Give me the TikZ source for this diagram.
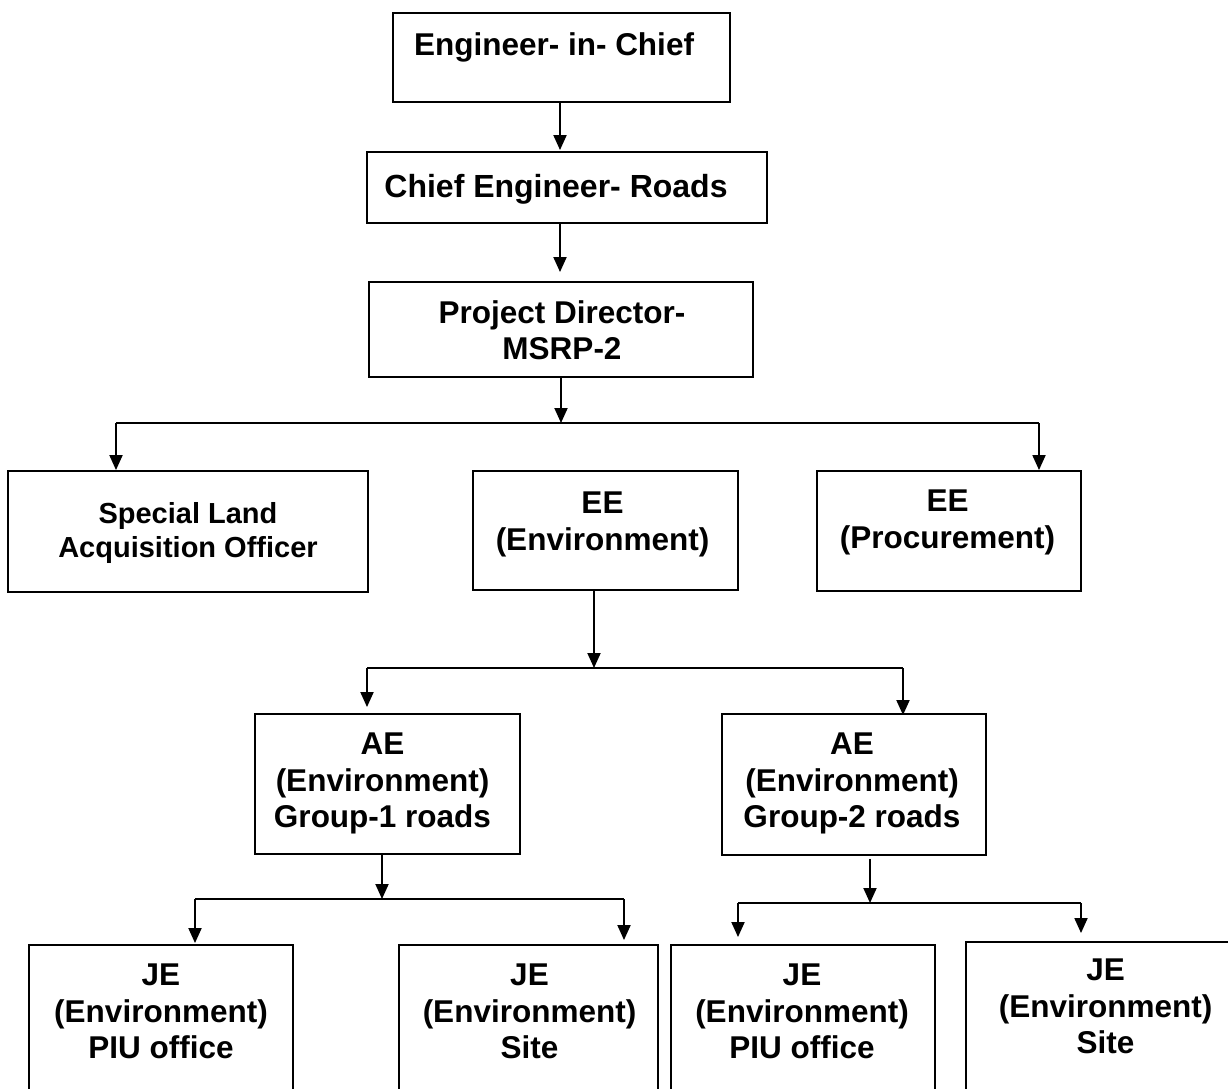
\documentclass[tikz,border=0pt]{standalone}
\usepackage{fontspec}
\setmainfont{Liberation Sans}
\usetikzlibrary{arrows.meta}
\begin{document}
\begin{tikzpicture}[x=1pt,y=-1pt]
\tikzset{
  box/.style={draw, line width=1.9pt, rectangle, inner sep=0pt},
  lbl/.style={anchor=north, inner sep=0pt, align=center, font=\fontsize{31.5}{36.5}\selectfont\bfseries},
  conn/.style={line width=1.9pt},
  arr/.style={line width=1.9pt, -{Triangle[length=15pt,width=13pt]}},
}
\useasboundingbox (0,0) rectangle (1228,1088);
\clip (0,0) rectangle (1228,1088);

% boxes
\node[box, minimum width=337pt, minimum height=89pt]  (eic)  at (561.5,57.5) {};
\node[box, minimum width=400pt, minimum height=71pt]  (ce)   at (567,187.5) {};
\node[box, minimum width=384pt, minimum height=95pt]  (pd)   at (561,329.5) {};
\node[box, minimum width=360pt, minimum height=121pt] (slao) at (188,531.5) {};
\node[box, minimum width=265pt, minimum height=119pt] (eee)  at (605.5,530.5) {};
\node[box, minimum width=264pt, minimum height=120pt] (eep)  at (949,531) {};
\node[box, minimum width=265pt, minimum height=140pt] (aea)  at (387.5,784) {};
\node[box, minimum width=264pt, minimum height=141pt] (aeb)  at (854,784.5) {};
\node[box, minimum width=264pt, minimum height=155pt] (jea)  at (161,1022.5) {};
\node[box, minimum width=259pt, minimum height=155pt] (jeb)  at (528.5,1022.5) {};
\node[box, minimum width=264pt, minimum height=155pt] (jec)  at (803,1022.5) {};
\node[box, minimum width=274pt, minimum height=158pt] (jed)  at (1103,1021) {};

% texts
\node[lbl] (teic) at (554,32) {Engineer- in- Chief};
\node[lbl, font=\fontsize{32}{36}\selectfont\bfseries] (tce) at (556,174) {Chief Engineer- Roads};
\node[lbl] (tpd) at (562,300) {Project Director-\\MSRP-2};
\node[lbl, font=\fontsize{29}{34}\selectfont\bfseries] (tslao) at (188,502) {Special Land\\Acquisition Officer};
\node[lbl] (teee) at (602.5,492) {EE\\(Environment)};
\node[lbl] (teep) at (947.5,490) {EE\\(Procurement)};
\node[lbl] (taea) at (382.5,733) {AE\\(Environment)\\Group-1 roads};
\node[lbl] (taeb) at (852,733) {AE\\(Environment)\\Group-2 roads};
\node[lbl] (tjea) at (161,964) {JE\\(Environment)\\PIU office};
\node[lbl] (tjeb) at (529.5,964) {JE\\(Environment)\\Site};
\node[lbl] (tjec) at (802,964) {JE\\(Environment)\\PIU office};
\node[lbl] (tjed) at (1105.5,959) {JE\\(Environment)\\Site};

% junction coordinates
\coordinate (c1) at (560,0);
\coordinate (j1) at (561,423);
\coordinate (j1l) at (116,423);
\coordinate (j1r) at (1039,423);
\coordinate (j2) at (594,668);
\coordinate (j2l) at (367,668);
\coordinate (j2r) at (903,668);
\coordinate (j3) at (382,899);
\coordinate (j3l) at (195,899);
\coordinate (j3r) at (624,899);
\coordinate (j4) at (870,903);
\coordinate (j4l) at (738,903);
\coordinate (j4r) at (1081,903);

% connectors
\draw[arr] (eic.south -| c1) -- ([yshift=1pt]ce.north -| c1);
\draw[arr] (ce.south -| c1) -- ([yshift=9pt]pd.north -| c1);
\draw[arr] (pd.south -| j1) -- (j1);
\draw[conn] (j1l) -- (j1r);
\draw[arr] (j1l) -- (slao.north -| j1l);
\draw[arr] (j1r) -- (eep.north -| j1r);

\draw[arr] (eee.south -| j2) -- (j2);
\draw[conn] (j2l) -- (j2r);
\draw[arr] (j2l) -- ([yshift=6pt]aea.north -| j2l);
\draw[arr] (j2r) -- ([yshift=-2pt]aeb.north -| j2r);

\draw[arr] (aea.south -| j3) -- (j3);
\draw[conn] (j3l) -- (j3r);
\draw[arr] (j3l) -- ([yshift=1pt]jea.north -| j3l);
\draw[arr] (j3r) -- ([yshift=4pt]jeb.north -| j3r);

\draw[arr] ([yshift=-3pt]aeb.south -| j4) -- (j4);
\draw[conn] (j4l) -- (j4r);
\draw[arr] (j4l) -- ([yshift=7pt]jec.north -| j4l);
\draw[arr] (j4r) -- ([yshift=8pt]jed.north -| j4r);
\end{tikzpicture}
\end{document}
